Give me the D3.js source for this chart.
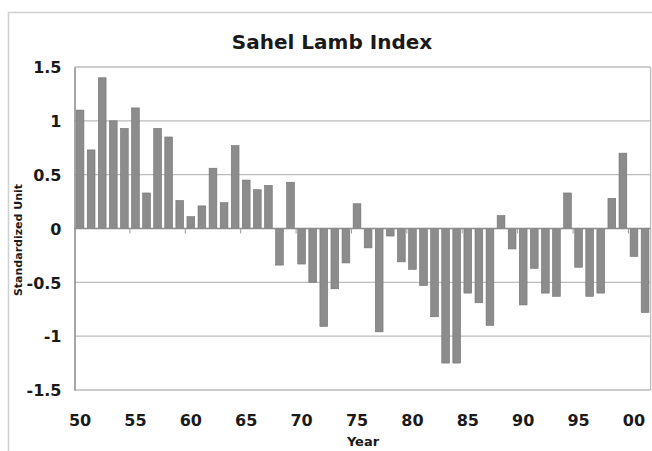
<!DOCTYPE html>
<html>
<head>
<meta charset="utf-8">
<script src="https://cdn.jsdelivr.net/npm/d3@7"></script>
<style>
  html, body { margin: 0; padding: 0; background: #fff; }
  svg { display: block; }
  text { font-family: "DejaVu Sans", Arial, sans-serif; font-weight: bold; fill: #1a1a1a; }
</style>
</head>
<body>
<div id="chart"></div>
<script>
// Sahel Lamb Index, standardized, 1950-2001
var years = d3.range(1950, 2002);
var lambIndex = [
    1.10, 0.73, 1.40, 1.00, 0.93, 1.12, 0.33, 0.93, 0.85, 0.26,
    0.11, 0.21, 0.56, 0.24, 0.77, 0.45, 0.36, 0.40, -0.34, 0.43,
    -0.33, -0.50, -0.91, -0.56, -0.32, 0.23, -0.18, -0.96, -0.07, -0.31,
    -0.38, -0.53, -0.82, -1.25, -1.25, -0.60, -0.69, -0.90, 0.12, -0.19,
    -0.71, -0.37, -0.60, -0.63, 0.33, -0.36, -0.63, -0.60, 0.28, 0.70,
    -0.26, -0.78
];
var yTicks = [1.5, 1, 0.5, 0, -0.5, -1, -1.5];
var xTickYears = [1950, 1955, 1960, 1965, 1970, 1975, 1980, 1985, 1990, 1995, 2000];

var width = 652, height = 451;
var margin = { top: 67, right: 1.4, bottom: 61, left: 74.5 };

var svg = d3.select("#chart").append("svg")
    .attr("width", width)
    .attr("height", height);

// outer chart frame (only its top/left edges are visible)
svg.append("rect")
    .attr("x", 8.5).attr("y", 12.5)
    .attr("width", width + 20).attr("height", height + 20)
    .style("fill", "none")
    .style("stroke", "#d0d0d0")
    .style("stroke-width", 1.5);

var x = d3.scaleBand()
    .domain(years)
    .range([margin.left, width - margin.right])
    .paddingInner(0.3)
    .paddingOuter(0.15);

var y = d3.scaleLinear()
    .domain([-1.5, 1.5])
    .range([height - margin.bottom, margin.top]);

// gridlines
svg.append("g")
    .selectAll("line")
    .data(yTicks.filter(function (d) { return d !== 0; }))
    .enter().append("line")
    .attr("x1", margin.left).attr("x2", width - margin.right)
    .attr("y1", function (d) { return y(d); })
    .attr("y2", function (d) { return y(d); })
    .style("stroke", "#bcbcbc")
    .style("stroke-width", 1.3);

// plot area right edge
svg.append("line")
    .attr("x1", width - margin.right).attr("x2", width - margin.right)
    .attr("y1", y(1.5)).attr("y2", y(-1.5))
    .style("stroke", "#bcbcbc")
    .style("stroke-width", 1.3);

// bars
svg.append("g")
    .selectAll("rect")
    .data(years)
    .enter().append("rect")
    .attr("x", function (d) { return x(d); })
    .attr("width", x.bandwidth())
    .attr("y", function (d, i) { return y(Math.max(0, lambIndex[i])); })
    .attr("height", function (d, i) { return Math.abs(y(lambIndex[i]) - y(0)); })
    .style("fill", "#8c8c8c")
    .style("stroke", "#727272")
    .style("stroke-width", 0.6);

// y axis, plain hyphen for negatives like the original
var yAxis = d3.axisLeft(y)
    .tickValues(yTicks)
    .tickSize(0)
    .tickPadding(13)
    .tickFormat(function (d) { return String(d); });

var gy = svg.append("g")
    .attr("transform", "translate(" + margin.left + ",0)")
    .call(yAxis);
gy.select(".domain").style("stroke", "#8a8a8a").style("stroke-width", 1.5);
gy.selectAll("text")
    .style("font-size", "16px")
    .attr("fill", "#1a1a1a")
    .attr("dy", "0.36em");

// category axis along zero line, tick every 5 bars at band boundaries
svg.append("line")
    .attr("x1", margin.left).attr("x2", width - margin.right)
    .attr("y1", y(0)).attr("y2", y(0))
    .style("stroke", "#8a8a8a")
    .style("stroke-width", 1.5);

svg.append("g")
    .selectAll("line")
    .data(xTickYears.slice(1))
    .enter().append("line")
    .attr("x1", function (d) { return x(d) - x.step() * x.paddingInner() / 2; })
    .attr("x2", function (d) { return x(d) - x.step() * x.paddingInner() / 2; })
    .attr("y1", y(0)).attr("y2", y(0) + 5)
    .style("stroke", "#9a9a9a")
    .style("stroke-width", 1);

// x tick labels (two-digit years)
svg.append("g")
    .selectAll("text")
    .data(xTickYears)
    .enter().append("text")
    .attr("x", function (d) { return x(d) + x.bandwidth() / 2; })
    .attr("y", 426)
    .attr("text-anchor", "middle")
    .style("font-size", "16px")
    .text(function (d) { return d3.format("02")(d % 100); });

// title
svg.append("text")
    .attr("x", 332)
    .attr("y", 49)
    .attr("text-anchor", "middle")
    .style("font-size", "20px")
    .text("Sahel Lamb Index");

// axis titles
svg.append("text")
    .attr("x", 363)
    .attr("y", 446)
    .attr("text-anchor", "middle")
    .style("font-size", "13px")
    .text("Year");

svg.append("text")
    .attr("transform", "translate(22,240) rotate(-90)")
    .attr("text-anchor", "middle")
    .style("font-size", "11px")
    .text("Standardized Unit");
</script>
</body>
</html>
